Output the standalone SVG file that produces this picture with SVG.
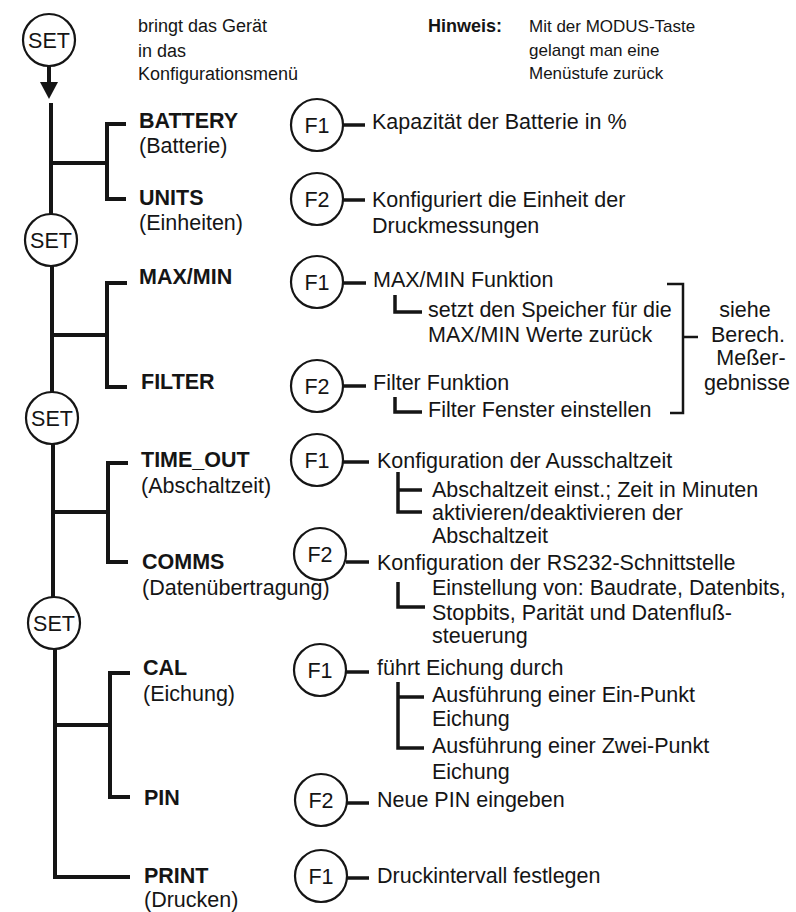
<svg xmlns="http://www.w3.org/2000/svg" width="796" height="912" viewBox="0 0 796 912">
<style>
text{font-family:"Liberation Sans",Arial,sans-serif;fill:#151515;font-size:21.5px}
.b{font-weight:bold}
.s{font-size:18px}
.s2{font-size:17px}
.c{text-anchor:middle}
.ring{fill:#fff;stroke:#151515;stroke-width:2.2}
.thick{stroke:#151515;stroke-width:4;fill:none;stroke-linecap:square}
.mid{stroke:#151515;stroke-width:3.5;fill:none}
.thin{stroke:#151515;stroke-width:2.5;fill:none}
</style>
<rect width="796" height="912" fill="#fff"/>

<g id="connectors">
<line x1="49" y1="66" x2="49" y2="84" class="thick"/>
<path d="M40,82 L58,82 L49,99 Z" fill="#151515"/>
<line x1="51" y1="105" x2="51" y2="214" class="thick"/>
<line x1="52" y1="266" x2="52" y2="392" class="thick"/>
<line x1="53" y1="444" x2="53" y2="597" class="thick"/>
<path d="M55,649 L55,877 L128,877" class="thick"/>
<line x1="51" y1="163" x2="107" y2="163" class="thick"/>
<path d="M124,124 L107,124 L107,199 L124,199" class="thick"/>
<line x1="52" y1="335" x2="107" y2="335" class="thick"/>
<path d="M125,283 L107,283 L107,387 L125,387" class="thick"/>
<line x1="53" y1="512" x2="108" y2="512" class="thick"/>
<path d="M126,463 L108,463 L108,562 L126,562" class="thick"/>
<line x1="55" y1="725" x2="110" y2="725" class="thick"/>
<path d="M128,673 L110,673 L110,797 L128,797" class="thick"/>
<line x1="343" y1="125" x2="365" y2="125" class="mid"/>
<line x1="343" y1="200" x2="365" y2="200" class="mid"/>
<line x1="343" y1="283" x2="366" y2="283" class="mid"/>
<line x1="343" y1="386" x2="366" y2="386" class="mid"/>
<line x1="343" y1="462" x2="369" y2="462" class="mid"/>
<line x1="346" y1="562" x2="369" y2="562" class="mid"/>
<line x1="346" y1="672" x2="369" y2="672" class="mid"/>
<line x1="347" y1="803" x2="369" y2="803" class="mid"/>
<line x1="347" y1="878" x2="369" y2="878" class="mid"/>
<path d="M395,295 L395,312 L422,312" class="mid"/>
<path d="M395,397 L395,412 L422,412" class="mid"/>
<path d="M398,472 L398,512 L422,512 M398,490 L422,490" class="mid"/>
<path d="M398,582 L398,607 L425,607" class="mid"/>
<path d="M398,682 L398,748 L424,748 M398,697 L424,697" class="mid"/>
<path d="M667,284 L683,284 L683,413 L670,413 M683,337 L698,337" class="thin"/>
</g>

<g id="set0"><circle cx="49" cy="40" r="26" class="ring"/><text x="49" y="48" class="c">SET</text></g>
<g id="set1"><circle cx="51" cy="240" r="26" class="ring"/><text x="51" y="248" class="c">SET</text></g>
<g id="set2"><circle cx="52" cy="418" r="26" class="ring"/><text x="52" y="426" class="c">SET</text></g>
<g id="set3"><circle cx="54" cy="623" r="26" class="ring"/><text x="54" y="631" class="c">SET</text></g>

<g id="intro">
<text x="138" y="32" class="s">bringt das Gerät</text>
<text x="138" y="57" class="s">in das</text>
<text x="138" y="80" class="s">Konfigurationsmenü</text>
</g>
<g id="hint">
<text x="428" y="32" class="s b">Hinweis:</text>
<text x="529" y="32" class="s2">Mit der MODUS-Taste</text>
<text x="529" y="56" class="s2">gelangt man eine</text>
<text x="529" y="79" class="s2">Menüstufe zurück</text>
</g>

<g id="battery"><text x="139" y="128" class="b">BATTERY</text><text x="139" y="153">(Batterie)</text></g>
<g id="units"><text x="139" y="205" class="b">UNITS</text><text x="139" y="230">(Einheiten)</text></g>
<g id="maxmin"><text x="139" y="284" class="b">MAX/MIN</text></g>
<g id="filter"><text x="141" y="389" class="b">FILTER</text></g>
<g id="timeout"><text x="141" y="467" class="b">TIME_OUT</text><text x="141" y="493">(Abschaltzeit)</text></g>
<g id="comms"><text x="142" y="569" class="b">COMMS</text><text x="142" y="595">(Datenübertragung)</text></g>
<g id="cal"><text x="143" y="675" class="b">CAL</text><text x="143" y="701">(Eichung)</text></g>
<g id="pin"><text x="144" y="805" class="b">PIN</text></g>
<g id="print"><text x="144" y="883" class="b">PRINT</text><text x="144" y="907">(Drucken)</text></g>

<g id="f-battery"><circle cx="317" cy="125" r="26" class="ring"/><text x="317" y="133" class="c">F1</text>
<text x="372" y="129">Kapazität der Batterie in %</text></g>
<g id="f-units"><circle cx="317" cy="199" r="26" class="ring"/><text x="317" y="207" class="c">F2</text>
<text x="372" y="207">Konfiguriert die Einheit der</text><text x="372" y="233">Druckmessungen</text></g>
<g id="f-maxmin"><circle cx="317" cy="282" r="26" class="ring"/><text x="317" y="290" class="c">F1</text>
<text x="373" y="287">MAX/MIN Funktion</text>
<text x="428" y="317">setzt den Speicher für die</text><text x="428" y="342">MAX/MIN Werte zurück</text></g>
<g id="f-filter"><circle cx="317" cy="386" r="26" class="ring"/><text x="317" y="394" class="c">F2</text>
<text x="373" y="390">Filter Funktion</text>
<text x="428" y="417">Filter Fenster einstellen</text></g>
<g id="note-results">
<text x="745" y="317" class="c">siehe</text>
<text x="748" y="342" class="c">Berech.</text>
<text x="751" y="365" class="c">Meßer-</text>
<text x="747" y="390" class="c">gebnisse</text>
</g>
<g id="f-timeout"><circle cx="317" cy="460" r="26" class="ring"/><text x="317" y="468" class="c">F1</text>
<text x="377" y="468">Konfiguration der Ausschaltzeit</text>
<text x="432" y="497">Abschaltzeit einst.; Zeit in Minuten</text>
<text x="432" y="520">aktivieren/deaktivieren der</text>
<text x="432" y="543">Abschaltzeit</text></g>
<g id="f-comms"><circle cx="320" cy="554" r="26" class="ring"/><text x="320" y="562" class="c">F2</text>
<text x="377" y="570">Konfiguration der RS232-Schnittstelle</text>
<text x="432" y="595">Einstellung von: Baudrate, Datenbits,</text>
<text x="432" y="620">Stopbits, Parität und Datenfluß-</text>
<text x="432" y="643">steuerung</text></g>
<g id="f-cal"><circle cx="320" cy="670" r="26" class="ring"/><text x="320" y="678" class="c">F1</text>
<text x="377" y="675">führt Eichung durch</text>
<text x="432" y="702">Ausführung einer Ein-Punkt</text>
<text x="432" y="726">Eichung</text>
<text x="432" y="753">Ausführung einer Zwei-Punkt</text>
<text x="432" y="779">Eichung</text></g>
<g id="f-pin"><circle cx="321" cy="800" r="26" class="ring"/><text x="321" y="808" class="c">F2</text>
<text x="377" y="807">Neue PIN eingeben</text></g>
<g id="f-print"><circle cx="321" cy="876" r="26" class="ring"/><text x="321" y="884" class="c">F1</text>
<text x="377" y="883">Druckintervall festlegen</text></g>
</svg>
